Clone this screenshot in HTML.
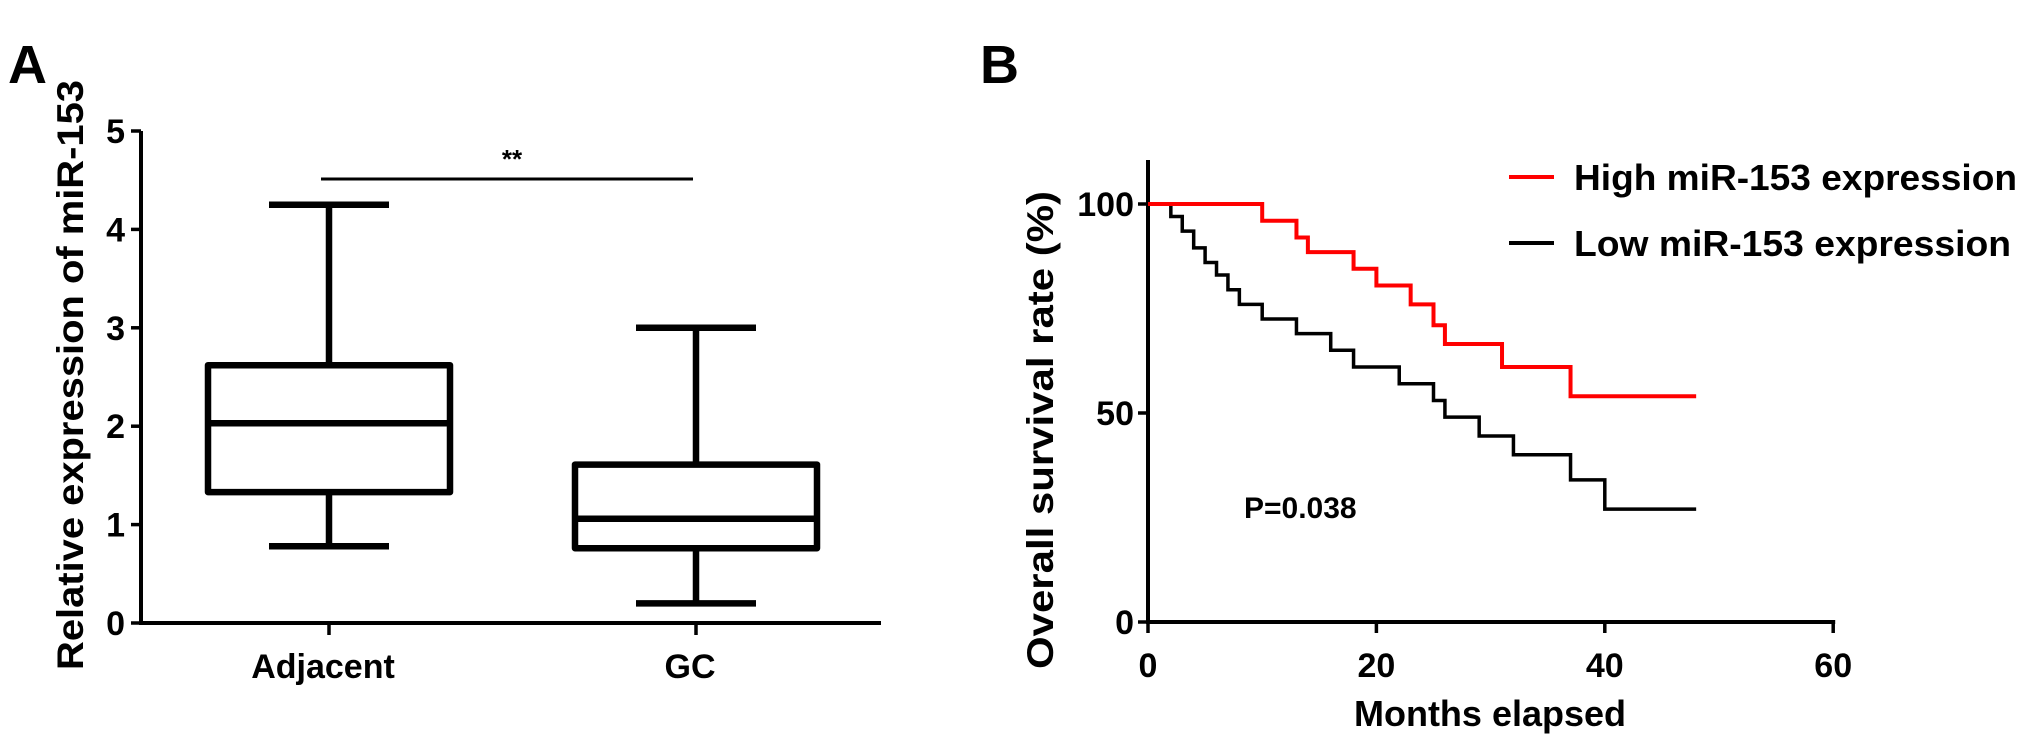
<!DOCTYPE html>
<html><head><meta charset="utf-8"><style>
html,body{margin:0;padding:0;background:#fff;}
svg{display:block;font-family:"Liberation Sans",Arial,sans-serif;}
</style></head><body>
<svg id="fig" width="2031" height="748" viewBox="0 0 2031 748" xmlns="http://www.w3.org/2000/svg">
<g id="pa"></g>
<g id="pb"></g>
</svg>
<script>
// Panel A data
const boxCategories = ["Adjacent", "GC"];
const boxMin = [0.78, 0.2];
const boxQ1 = [1.33, 0.76];
const boxMedian = [2.03, 1.06];
const boxQ3 = [2.62, 1.61];
const boxMax = [4.25, 3.0];
const yTicksA = [0, 1, 2, 3, 4, 5];
// Panel B data
const highTimes = [10, 13, 14, 18, 20, 23, 25, 26, 31, 37];
const highValues = [96, 92, 88.5, 84.5, 80.5, 76, 71, 66.5, 61, 54];
const lowTimes = [2, 3, 4, 5, 6, 7, 8, 10, 13, 16, 18, 22, 25, 26, 29, 32, 37, 40];
const lowValues = [97, 93.5, 89.5, 86, 83, 79.5, 76, 72.5, 69, 65, 61, 57, 53, 49, 44.5, 40, 34, 27];
const curveEnd = 48;
const xTicksB = [0, 20, 40, 60];
const yTicksB = [0, 50, 100];

const NS = "http://www.w3.org/2000/svg";
function mk(parent, tag, attrs, text) {
  const e = document.createElementNS(NS, tag);
  for (const k in attrs) e.setAttribute(k, attrs[k]);
  if (text !== undefined) e.textContent = text;
  parent.appendChild(e);
  return e;
}
const pa = document.getElementById("pa");
const pb = document.getElementById("pb");

// ---------- Panel A ----------
const ax0 = 141, axY0 = 623, axY5 = 131, axRight = 881;
const yA = v => axY0 + (axY5 - axY0) * v / 5;
const catX = [329, 696];
const boxHalf = 121, capHalf = 60;

let t = mk(pa, "text", {x: 8, y: 83, "font-size": 54, "font-weight": "bold"}, "A");



let l = mk(pa, "line", {x1: ax0, y1: axY5, x2: ax0, y2: axY0 + 1.5, stroke: "#000", "stroke-width": 4});


l = mk(pa, "line", {x1: ax0 - 2, y1: axY0, x2: axRight, y2: axY0, stroke: "#000", "stroke-width": 4});



yTicksA.forEach(v => {
  const tk = mk(pa, "line", {x1: ax0 - 10, y1: yA(v), x2: ax0, y2: yA(v), stroke: "#000", "stroke-width": 3.5});
  
  
  const lb = mk(pa, "text", {x: ax0 - 16, y: yA(v) + 12, "font-size": 34, "font-weight": "bold", "text-anchor": "end"}, String(v));
  
  
});

t = mk(pa, "text", {x: 0, y: 0, "font-size": 37, "font-weight": "bold", "text-anchor": "middle", transform: "translate(83,375) rotate(-90)", textLength: 590, lengthAdjust: "spacingAndGlyphs"}, "Relative expression of miR-153");



boxCategories.forEach((c, i) => {
  const cx = catX[i];
  const g = mk(pa, "g", {fill: "none", stroke: "#000", "stroke-width": 6.5});
  
  
  mk(g, "line", {x1: cx, y1: yA(boxMax[i]), x2: cx, y2: yA(boxQ3[i])});
  mk(g, "line", {x1: cx, y1: yA(boxQ1[i]), x2: cx, y2: yA(boxMin[i])});
  mk(g, "line", {x1: cx - capHalf, y1: yA(boxMax[i]), x2: cx + capHalf, y2: yA(boxMax[i])});
  mk(g, "line", {x1: cx - capHalf, y1: yA(boxMin[i]), x2: cx + capHalf, y2: yA(boxMin[i])});
  mk(g, "rect", {x: cx - boxHalf, y: yA(boxQ3[i]), width: boxHalf * 2, height: yA(boxQ1[i]) - yA(boxQ3[i]), "stroke-linejoin": "round"});
  mk(g, "line", {x1: cx - boxHalf, y1: yA(boxMedian[i]), x2: cx + boxHalf, y2: yA(boxMedian[i])});
  const tk = mk(pa, "line", {x1: cx, y1: axY0, x2: cx, y2: axY0 + 12, stroke: "#000", "stroke-width": 3.5});
  
  
  const lb = mk(pa, "text", {x: cx - 6, y: 678, "font-size": 34, "font-weight": "bold", "text-anchor": "middle"}, c);
  
  
});

l = mk(pa, "line", {x1: 321, y1: 179, x2: 693, y2: 179, stroke: "#000", "stroke-width": 3});


t = mk(pa, "text", {x: 512, y: 168, "font-size": 26, "font-weight": "bold", "text-anchor": "middle"}, "**");



// ---------- Panel B ----------
const bx0 = 1148, bxPer = 11.42, by0 = 622, by100 = 204;
const xB = m => bx0 + m * bxPer;
const yB = p => by0 + (by100 - by0) * p / 100;

t = mk(pb, "text", {x: 980, y: 83, "font-size": 54, "font-weight": "bold"}, "B");



l = mk(pb, "line", {x1: bx0, y1: 160, x2: bx0, y2: by0 + 1.5, stroke: "#000", "stroke-width": 4});


l = mk(pb, "line", {x1: bx0 - 2, y1: by0, x2: xB(60) + 2, y2: by0, stroke: "#000", "stroke-width": 4});



yTicksB.forEach(v => {
  const tk = mk(pb, "line", {x1: bx0 - 10, y1: yB(v), x2: bx0, y2: yB(v), stroke: "#000", "stroke-width": 3.5});
  
  
  const lb = mk(pb, "text", {x: bx0 - 14, y: yB(v) + 12, "font-size": 34, "font-weight": "bold", "text-anchor": "end"}, String(v));
  
  
});
xTicksB.forEach(v => {
  const tk = mk(pb, "line", {x1: xB(v), y1: by0, x2: xB(v), y2: by0 + 11, stroke: "#000", "stroke-width": 3.5});
  
  
  const lb = mk(pb, "text", {x: xB(v), y: 677, "font-size": 34, "font-weight": "bold", "text-anchor": "middle"}, String(v));
  
  
});

t = mk(pb, "text", {x: 1490, y: 726, "font-size": 36, "font-weight": "bold", "text-anchor": "middle"}, "Months elapsed");


t = mk(pb, "text", {x: 0, y: 0, "font-size": 37, "font-weight": "bold", "text-anchor": "middle", transform: "translate(1053,430) rotate(-90)", textLength: 478, lengthAdjust: "spacingAndGlyphs"}, "Overall survival rate (%)");



function stepPath(times, vals) {
  let d = "M" + xB(0) + "," + yB(100);
  let prev = 100;
  times.forEach((tm, i) => {
    d += " L" + xB(tm) + "," + yB(prev) + " L" + xB(tm) + "," + yB(vals[i]);
    prev = vals[i];
  });
  d += " L" + xB(curveEnd) + "," + yB(prev);
  return d;
}
let p = mk(pb, "path", {d: stepPath(lowTimes, lowValues), fill: "none", stroke: "#000", "stroke-width": 3.5});


p = mk(pb, "path", {d: stepPath(highTimes, highValues), fill: "none", stroke: "#ff0000", "stroke-width": 4});



t = mk(pb, "text", {x: 1244, y: 518, "font-size": 30, "font-weight": "bold"}, "P=0.038");



// legend
const lg1 = mk(pb, "g", {});


mk(lg1, "line", {x1: 1509, y1: 177, x2: 1554, y2: 177, stroke: "#ff0000", "stroke-width": 4});
mk(lg1, "text", {x: 1574, y: 190, "font-size": 36, "font-weight": "bold", textLength: 443, lengthAdjust: "spacingAndGlyphs"}, "High miR-153 expression");
const lg2 = mk(pb, "g", {});


mk(lg2, "line", {x1: 1509, y1: 243, x2: 1554, y2: 243, stroke: "#000", "stroke-width": 4});
mk(lg2, "text", {x: 1574, y: 256, "font-size": 36, "font-weight": "bold", textLength: 437, lengthAdjust: "spacingAndGlyphs"}, "Low miR-153 expression");
</script>
</body></html>
